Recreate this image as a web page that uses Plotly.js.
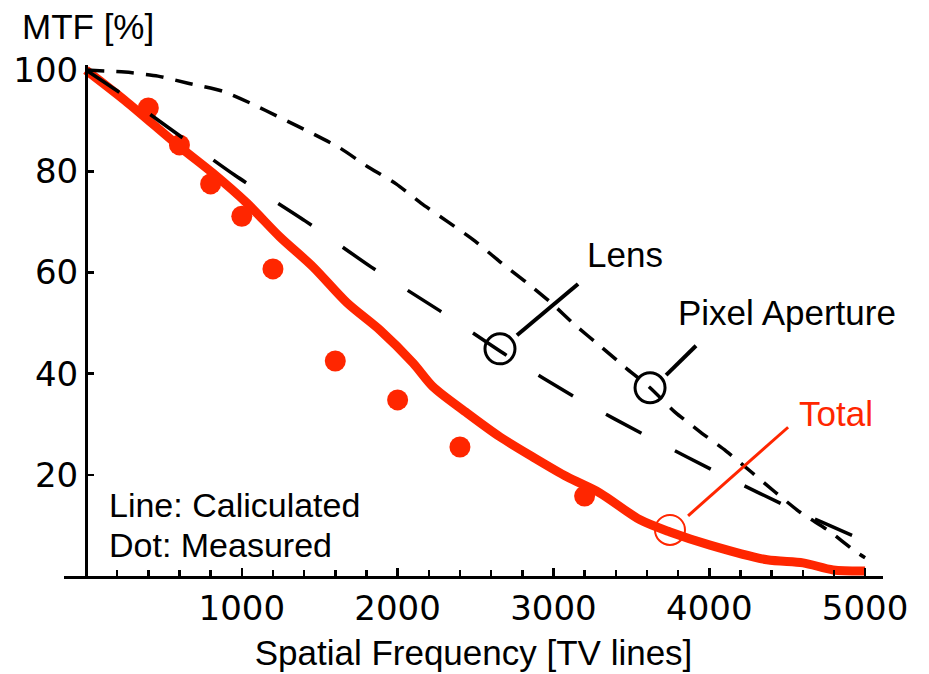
<!DOCTYPE html>
<html>
<head>
<meta charset="utf-8">
<script src="https://cdn.plot.ly/plotly-3.0.1.min.js"></script>
<style>html,body{margin:0;padding:0;background:#fff;}#chart{width:929px;height:674px;}</style>
</head>
<body>
<div id="chart"></div>
<script>
// Total (calculated) MTF
const totalX = [0, 250, 603, 815, 1033, 1245, 1457, 1675, 1887, 2099, 2227, 2446, 2657, 2869, 3087, 3299, 3556, 3748, 4005, 4371, 4602, 4795, 5000];
const totalY = [100, 94.0, 84.8, 79.6, 73.7, 67.0, 61.1, 54.0, 48.6, 42.1, 37.4, 32.2, 27.5, 23.5, 19.6, 16.4, 11.1, 8.7, 6.1, 3.2, 2.6, 1.2, 1.0];
// Lens MTF
const lensX = [0, 218, 526, 956, 1406, 1829, 2272, 2715, 3158, 3620, 4095, 4564, 4968, 5000];
const lensY = [100, 95.5, 88.7, 79.2, 70.2, 61.1, 52.4, 43.3, 35.0, 27.3, 19.8, 12.8, 7.3, 6.7];
// Pixel aperture MTF
const pixelX = [0, 250, 462, 655, 879, 1053, 1252, 1451, 1630, 1803, 1990, 2150, 2323, 2497, 2657, 2824, 2985, 3139, 3306, 3466, 3620, 3780, 3941, 4108, 4268, 4422, 4583, 4769, 4936, 5000];
const pixelY = [100, 99.6, 98.8, 97.4, 95.8, 93.5, 90.5, 87.5, 84.6, 81.0, 77.5, 73.7, 70.0, 66.2, 62.1, 58.1, 54.0, 49.6, 45.3, 41.1, 37.2, 32.4, 28.5, 24.7, 20.6, 16.6, 12.6, 8.9, 4.9, 3.6];
// Measured points
const measX = [400, 600, 800, 1000, 1200, 1600, 2000, 2400, 3200];
const measY = [92.5, 85.2, 77.5, 71.1, 60.7, 42.5, 34.8, 25.5, 15.8];
// Axis ticks
const xTickVals = [1000, 2000, 3000, 4000, 5000];
const xTickText = ['1000', '2000', '3000', '4000', '5000'];
const yTickVals = [20, 40, 60, 80, 100];
const yTickText = ['20', '40', '60', '80', '100'];

const RED = 'rgb(255,38,0)';
const TXT = 'Liberation Sans, Arial, sans-serif';
const NUM = 'DejaVu Sans, sans-serif';

const traces = [
  {x: totalX, y: totalY, mode: 'lines', line: {color: RED, width: 9, shape: 'spline', smoothing: 0.8}, name: 'Total', hoverinfo: 'skip'},
  {x: measX, y: measY, mode: 'markers', marker: {color: RED, size: 21}, name: 'Measured', cliponaxis: false},
  {x: lensX, y: lensY, mode: 'lines', line: {color: '#000', width: 3.5, dash: '40px,38px', shape: 'spline', smoothing: 0.6}, name: 'Lens'},
  {x: pixelX, y: pixelY, mode: 'lines', line: {color: '#000', width: 3.5, dash: '18px,12px', shape: 'spline', smoothing: 0.6}, name: 'Pixel Aperture'}
];

function circ(x, y, color, w) {
  return {type: 'circle', xref: 'x', yref: 'y', xsizemode: 'pixel', ysizemode: 'pixel',
    xanchor: x, yanchor: y, x0: -15, x1: 15, y0: -15, y1: 15, line: {color: color, width: w}};
}
function seg(x0, y0, x1, y1, color, w) {
  return {type: 'line', xref: 'x', yref: 'y', x0: x0, y0: y0, x1: x1, y1: y1, line: {color: color, width: w}};
}

const layout = {
  width: 929, height: 674,
  margin: {l: 64, r: 46, t: 65, b: 98},
  paper_bgcolor: '#fff', plot_bgcolor: '#fff',
  showlegend: false,
  font: {family: TXT, color: '#000', size: 34},
  xaxis: {
    range: [-141, 5115], showgrid: false, zeroline: false,
    showline: true, linecolor: '#000', linewidth: 3,
    ticks: 'inside', ticklen: 8, tickwidth: 2.5, tickcolor: '#000',
    tickvals: xTickVals, ticktext: xTickText,
    tickfont: {family: NUM, size: 34, color: '#000'},
    minor: {dtick: 200, tick0: 0, ticks: 'inside', ticklen: 6, tickwidth: 2.5, tickcolor: '#000', showgrid: false},
    title: {text: 'Spatial Frequency [TV lines]', font: {family: TXT, size: 35, color: '#000'}, standoff: 14}
  },
  yaxis: {
    range: [0, 101], showgrid: false, zeroline: false,
    anchor: 'free', position: 0.02686,
    showline: true, linecolor: '#000', linewidth: 3,
    ticks: 'inside', ticklen: 6, tickwidth: 2.5, tickcolor: '#000',
    tickvals: yTickVals, ticktext: yTickText,
    tickfont: {family: NUM, size: 34, color: '#000'}
  },
  shapes: [
    circ(2657, 44.9, '#000', 3), seg(2766, 47.6, 3158, 57.7, '#000', 4),
    circ(3620, 37.2, '#000', 3), seg(3723, 39.7, 3915, 45.5, '#000', 4),
    circ(3748, 9.1, RED, 2), seg(3864, 11.9, 4506, 29.4, RED, 3)
  ],
  annotations: [
    {text: 'MTF [%]', xref: 'paper', yref: 'paper', x: -0.054, y: 1.075, xanchor: 'left', yanchor: 'middle', showarrow: false, font: {size: 35}},
    {text: 'Line: Caliculated', xref: 'x', yref: 'y', x: 135, y: 14.0, xanchor: 'left', yanchor: 'middle', showarrow: false, font: {size: 34}},
    {text: 'Dot: Measured', xref: 'x', yref: 'y', x: 135, y: 6.1, xanchor: 'left', yanchor: 'middle', showarrow: false, font: {size: 34}},
    {text: 'Lens', xref: 'x', yref: 'y', x: 3460, y: 63.6, xanchor: 'center', yanchor: 'middle', showarrow: false, font: {size: 35}},
    {text: 'Pixel Aperture', xref: 'x', yref: 'y', x: 4499, y: 52.0, xanchor: 'center', yanchor: 'middle', showarrow: false, font: {size: 35}},
    {text: 'Total', xref: 'x', yref: 'y', x: 4814, y: 32.2, xanchor: 'center', yanchor: 'middle', showarrow: false, font: {size: 35, color: RED}}
  ]
};

Plotly.newPlot('chart', traces, layout, {displayModeBar: false, staticPlot: true});
</script>
</body>
</html>
